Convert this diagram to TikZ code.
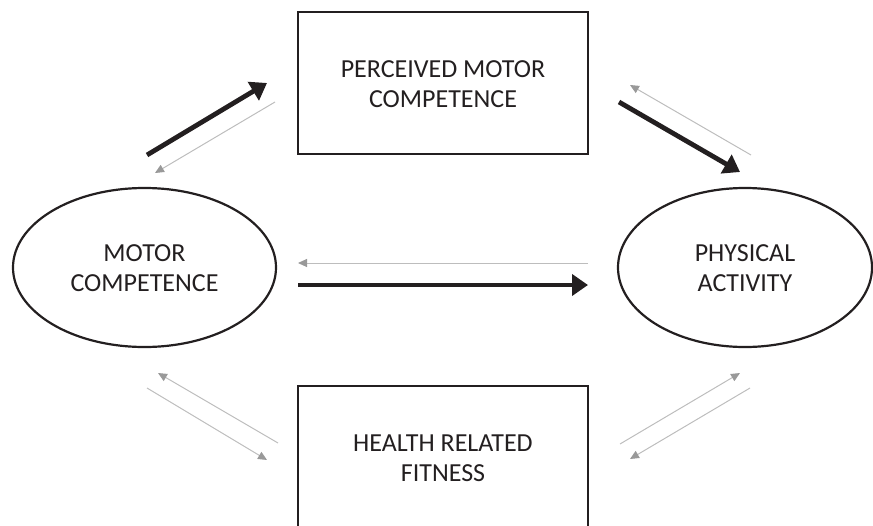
\documentclass[tikz,border=0pt]{standalone}
\usepackage{fontspec}
\setmainfont{Carlito}
\usetikzlibrary{arrows.meta,shapes.geometric}
\definecolor{txt}{HTML}{231F20}
\definecolor{thinline}{HTML}{BDBDBD}
\definecolor{thinhead}{HTML}{999999}
\newcommand{\lowtext}[1]{\raisebox{-3pt}[\height][\depth]{\begin{tabular}{@{}c@{}}#1\end{tabular}}}
\begin{document}
\begin{tikzpicture}[x=1pt,y=-1pt,
  lbl/.style={align=center, text=txt, font=\fontsize{26}{30}\selectfont, inner sep=0pt, outer sep=0pt},
  boxnode/.style={lbl, draw=txt, line width=2.6pt, minimum width=290pt, minimum height=142pt},
  ellnode/.style={lbl, ellipse, draw=txt, line width=2.2pt, minimum height=159pt},
  strong/.style={draw=txt, line width=4.8pt, -{Triangle[length=16pt,width=21pt]}},
  weak/.style={draw=thinline, line width=1pt, -{Triangle[length=9pt,width=8pt,fill=thinhead,color=thinhead]}}]
\useasboundingbox (0,0) rectangle (873,525);
\clip (0,0) rectangle (873,525);
\node[boxnode] (pmc) at (443,83) {\lowtext{PERCEIVED MOTOR\\COMPETENCE}};
\node[boxnode] (hrf) at (443,457) {\lowtext{HEALTH RELATED\\FITNESS}};
\node[ellnode, minimum width=263pt] (mc) at (144.5,267.5) {\lowtext{MOTOR\\COMPETENCE}};
\node[ellnode, minimum width=254pt] (pa) at (745,267.5) {\lowtext{PHYSICAL\\ACTIVITY}};
% endpoints
\coordinate (a1s) at (147,155); \coordinate (a1e) at (267,83);
\coordinate (a2s) at (275,102); \coordinate (a2e) at (155,173);
\coordinate (b1s) at (619,102); \coordinate (b1e) at (740,172);
\coordinate (b2s) at (751,155); \coordinate (b2e) at (630,85);
\coordinate (c1s) at (588,263); \coordinate (c1e) at (298,263);
\coordinate (c2s) at (298,285); \coordinate (c2e) at (588,285);
\coordinate (d1s) at (278,443); \coordinate (d1e) at (158,373);
\coordinate (d2s) at (147,388); \coordinate (d2e) at (267,460);
\coordinate (e1s) at (620,444); \coordinate (e1e) at (740,373);
\coordinate (e2s) at (750,388); \coordinate (e2e) at (630,459);
\draw[strong] (a1s) -- (a1e);
\draw[weak] (a2s) -- (a2e);
\draw[strong] (b1s) -- (b1e);
\draw[weak] (b2s) -- (b2e);
\draw[weak] (c1s) -- (c1e);
\draw[strong] (c2s) -- (c2e);
\draw[weak] (d1s) -- (d1e);
\draw[weak] (d2s) -- (d2e);
\draw[weak] (e1s) -- (e1e);
\draw[weak] (e2s) -- (e2e);
\end{tikzpicture}
\end{document}
